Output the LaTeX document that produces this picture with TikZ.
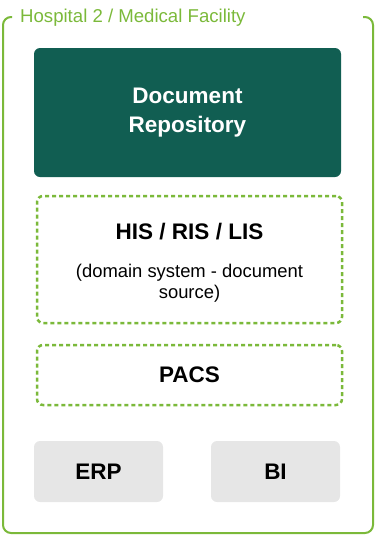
\documentclass[tikz,border=0pt]{standalone}
\usepackage{fontspec}
\setmainfont{Liberation Sans}
\usepackage{tikz}
\usetikzlibrary{positioning}

\definecolor{leafgreen}{HTML}{7BB93A}
\definecolor{repoteal}{HTML}{115E52}
\definecolor{lightgrey}{HTML}{E6E6E6}

\begin{document}
\begin{tikzpicture}[
    frame/.style={draw=leafgreen, line width=2pt, rounded corners=8pt},
    repobox/.style={fill=repoteal, rounded corners=6pt, inner sep=0pt},
    dashbox/.style={draw=leafgreen, line width=2.5pt, dash pattern=on 4pt off 3pt, rounded corners=6pt, inner sep=0pt},
    greybox/.style={fill=lightgrey, rounded corners=6pt, inner sep=0pt, font=\bfseries\fontsize{22.5}{26}\selectfont},
    heading/.style={font=\bfseries\fontsize{22.5}{29}\selectfont, inner sep=0pt, align=center}
]
\useasboundingbox (0,0) rectangle (376pt,-536pt);

% outer facility frame, open at the top for its title
\draw[frame] (12pt,-17pt) -- (3pt,-17pt) -- (3pt,-533pt) -- (373pt,-533pt) -- (373pt,-17pt) -- (363pt,-17pt);
\node [anchor=base west, inner sep=0pt, text=leafgreen, font=\fontsize{18.6}{21}\selectfont] (facility) at (20pt,-22.7pt) {Hospital 2 / Medical Facility};

\node [repobox, minimum width=307pt, minimum height=129pt] (repo) at (187.5pt,-112.5pt) {};
\node [heading, text=white] (repotext) at (repo) {Document\\Repository};

\node [dashbox, minimum width=305pt, minimum height=127pt] (his) at (189.5pt,-259.5pt) {};
\node [heading] (histext) at (189.5pt,-232pt) {HIS / RIS / LIS};
\node [inner sep=0pt, align=center, font=\fontsize{18.4}{21.5}\selectfont] (hisnote) at (189.5pt,-283pt) {(domain system - document\\source)};

\node [dashbox, minimum width=305pt, minimum height=60pt] (pacs) at (189.5pt,-375pt) {};
\node [heading] (pacstext) at (pacs) {PACS};

\node [greybox, minimum width=129pt, minimum height=61pt] (erp) at (98.5pt,-471.5pt) {ERP};
\node [greybox, minimum width=129pt, minimum height=61pt] (bi) at (275.5pt,-471.5pt) {BI};
\end{tikzpicture}
\end{document}
